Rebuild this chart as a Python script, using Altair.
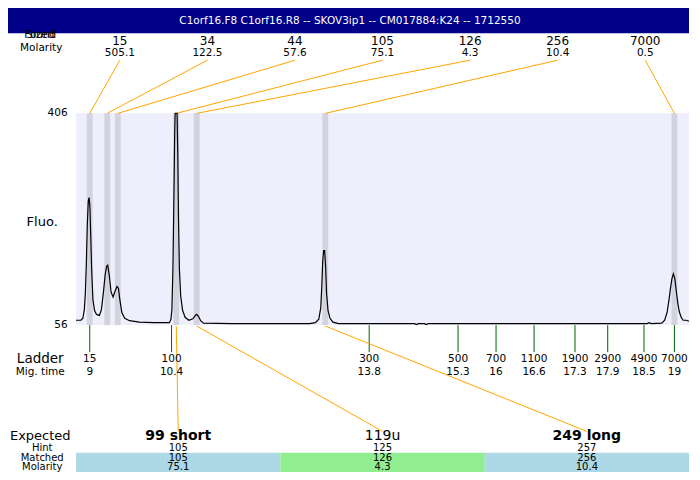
import altair as alt
import pandas as pd

# ---------------- data ----------------
TITLE = "C1orf16.F8  C1orf16.R8 -- SKOV3ip1 -- CM017884:K24 -- 1712550"

trace_time = [8.767, 8.850, 8.883, 8.908, 8.925, 8.942, 8.958, 8.975, 8.988, 9.003,
              9.017, 9.033, 9.055, 9.083, 9.116, 9.166, 9.200, 9.233, 9.266, 9.291,
              9.308, 9.333, 9.366, 9.399, 9.433, 9.466, 9.491, 9.516, 9.549, 9.599,
              9.682, 9.849, 10.098, 10.364, 10.389, 10.406, 10.423, 10.439, 10.453, 10.461,
              10.494, 10.506, 10.519, 10.534, 10.556, 10.589, 10.631, 10.697, 10.764, 10.805,
              10.830, 10.864, 10.897, 10.947, 11.429, 12.261, 12.760, 12.860, 12.918, 12.952,
              12.968, 12.985, 13.001, 13.018, 13.035, 13.051, 13.076, 13.110, 13.160, 13.259,
              14.557, 14.591, 14.624, 14.724, 14.757, 14.790, 15.922, 17.586, 18.535, 18.568,
              18.601, 18.784, 18.834, 18.875, 18.908, 18.933, 18.958, 18.983, 19.008, 19.033,
              19.058, 19.083, 19.116, 19.150, 19.200, 19.250]
trace_fluo = [64.0, 64.0, 67.2, 81.6, 108.7, 156.7, 220.6, 260.5, 266.9, 252.6,
              204.6, 148.7, 97.5, 80.0, 73.6, 72.0, 81.6, 108.7, 140.7, 153.5,
              155.1, 139.1, 110.3, 102.3, 111.9, 119.9, 116.7, 97.5, 76.8, 67.2,
              63.2, 60.8, 60.0, 60.0, 65.6, 81.6, 148.7, 260.5, 372.4, 406.0,
              406.0, 340.4, 228.6, 148.7, 103.9, 80.0, 68.8, 64.0, 66.4, 72.0,
              73.6, 69.6, 63.2, 59.2, 58.4, 58.4, 58.4, 60.0, 65.6, 84.8,
              116.7, 161.5, 179.0, 179.0, 151.9, 108.7, 80.0, 67.2, 60.8, 58.4,
              58.4, 56.8, 58.4, 58.4, 56.8, 58.4, 58.4, 58.4, 58.4, 60.0,
              58.4, 59.2, 64.0, 76.8, 97.5, 116.7, 132.7, 140.7, 132.7, 111.9,
              92.8, 78.4, 68.8, 64.0, 64.0, 62.4]

found_size = ["15", "34", "44", "105", "126", "256", "7000"]
found_molarity = ["505.1", "122.5", "57.6", "75.1", "4.3", "10.4", "0.5"]
found_time = [9.0, 9.30, 9.48, 10.48, 10.83, 13.03, 19.0]

ladder_size = ["15", "100", "300", "500", "700", "1100", "1900", "2900", "4900", "7000"]
ladder_time = [9.0, 10.4, 13.78, 15.3, 15.95, 16.6, 17.3, 17.86, 18.48, 19.0]
ladder_label = ["9", "10.4", "13.8", "15.3", "16", "16.6", "17.3", "17.9", "18.5", "19"]

expected_label = ["99 short", "119u", "249 long"]
expected_bold = [True, False, True]
hint = ["105", "125", "257"]
matched = ["105", "126", "256"]
matched_molarity = ["75.1", "4.3", "10.4"]
matched_time = [10.48, 10.83, 13.03]
matched_status = ["ok", "near", "ok"]

# ---------------- layout ----------------
W, H = 684, 464
SX, SY = W / 700, H / 480
T0, T1 = 8.767, 19.25          # plot area time range
TL = T0 - 70 / 60.1            # left edge of the page
F0, F1 = 56, 406               # fluorescence range of plot area
FPX = (F1 - F0) / 219
F_TOP = F1 + 109 * FPX
F_BOT = F0 - 152 * FPX
FONT = "DejaVu Sans"

XS = alt.Scale(domain=[TL, T1], nice=False, zero=False)
YS = alt.Scale(domain=[F_BOT, F_TOP], nice=False, zero=False)


def X(f):
    return alt.X(f, type="quantitative", scale=XS, axis=None)


def Y(f):
    return alt.Y(f, type="quantitative", scale=YS, axis=None)


def vx(px):
    return alt.value(px * SX)


def vy(py):
    return alt.value(py * SY)


def label(text, x, y, size, align="center", weight="normal", color="black"):
    return alt.Chart(pd.DataFrame({"text": [text]})).mark_text(
        font=FONT, fontSize=size, align=align, baseline="middle",
        fontWeight=weight, color=color
    ).encode(x=vx(x), y=vy(y), text="text:N")


frame = pd.DataFrame({"tl": [TL], "t0": [T0], "t1": [T1], "f0": [F0], "f1": [F1], "title": [TITLE]})
trace = pd.DataFrame({"t": trace_time, "f": trace_fluo})
found = pd.DataFrame({"size": found_size, "mol": found_molarity, "t": found_time,
                      "i": list(range(len(found_size)))})
ladder = pd.DataFrame({"size": ladder_size, "t": ladder_time, "lab": ladder_label})
table = pd.DataFrame({"exp": expected_label, "bold": expected_bold, "hint": hint,
                      "matched": matched, "mol": matched_molarity, "t": matched_time,
                      "status": matched_status, "j": [0, 1, 2]})

base_frame = alt.Chart(frame)
header = base_frame.mark_rect(color="#000088").encode(x=X("tl"), x2="t1", y=vy(0), y2=vy(26))
title = base_frame.mark_text(font=FONT, fontSize=10.5, color="white", baseline="middle").encode(
    x=alt.value(W / 2), y=vy(13), text="title:N")
bg = base_frame.mark_rect(color="#eeeefc").encode(x=X("t0"), x2="t1", y=Y("f1"), y2="f0")

bands = alt.Chart(found).transform_calculate(
    lo="datum.t - 0.05", hi="datum.t + 0.05", f0=str(F0), f1=str(F1)
).mark_rect(color="#d3d3df").encode(x=X("lo"), x2="hi", y=Y("f1"), y2="f0")

line = alt.Chart(trace).mark_line(color="black", strokeWidth=1.2).encode(x=X("t"), y=Y("f"))

ladder_ticks = alt.Chart(ladder).transform_calculate(f0=str(F0)).mark_rule(
    color="#006400", strokeWidth=1).encode(x=X("t"), y=Y("f0"), y2=vy(356))
ladder_text = alt.Chart(ladder).mark_text(font=FONT, fontSize=10.5, baseline="middle").encode(
    x=X("t"), y=vy(363), text="size:N")
ladder_time_text = alt.Chart(ladder).mark_text(font=FONT, fontSize=10.5, baseline="middle").encode(
    x=X("t"), y=vy(377), text="lab:N")

found_base = alt.Chart(found).transform_calculate(
    col_t=f"{T0} + (datum.i + 0.5) * ({T1} - {T0}) / 7")
up_lines = found_base.mark_rule(color="orange", strokeWidth=1).encode(
    x=X("col_t"), x2="t", y=vy(54), y2=vy(109))
found_size_text = found_base.mark_text(font=FONT, fontSize=12, baseline="middle").encode(
    x=X("col_t"), y=vy(34), text="size:N")
found_mol_text = found_base.mark_text(font=FONT, fontSize=10.5, baseline="middle").encode(
    x=X("col_t"), y=vy(46.5), text="mol:N")

table_base = alt.Chart(table).transform_calculate(
    c_t=f"{T0} + (datum.j + 0.5) * ({T1} - {T0}) / 3",
    c0=f"{T0} + datum.j * ({T1} - {T0}) / 3",
    c1=f"{T0} + (datum.j + 1) * ({T1} - {T0}) / 3")
cells = table_base.mark_rect().encode(
    x=X("c0"), x2="c1", y=vy(460), y2=vy(480),
    color=alt.Color("status:N", scale=alt.Scale(domain=["ok", "near"], range=["#add8e6", "#90ee90"]),
                    legend=None))
down_lines = table_base.mark_rule(color="orange", strokeWidth=1).encode(
    x=X("t"), x2="c_t", y=vy(329), y2=vy(438))
exp_bold = table_base.transform_filter("datum.bold").mark_text(
    font=FONT, fontSize=14, fontWeight="bold", baseline="middle").encode(
    x=X("c_t"), y=vy(443), text="exp:N")
exp_norm = table_base.transform_filter("!datum.bold").mark_text(
    font=FONT, fontSize=14, baseline="middle").encode(
    x=X("c_t"), y=vy(443), text="exp:N")
hint_text = table_base.mark_text(font=FONT, fontSize=10, baseline="middle").encode(
    x=X("c_t"), y=vy(455), text="hint:N")
matched_text = table_base.mark_text(font=FONT, fontSize=10, baseline="middle").encode(
    x=X("c_t"), y=vy(465), text="matched:N")
mol_text = table_base.mark_text(font=FONT, fontSize=10, baseline="middle").encode(
    x=X("c_t"), y=vy(474.5), text="mol:N")

fluo_ticks = alt.Chart(pd.DataFrame({"f": [F0, F1]})).mark_text(
    font=FONT, fontSize=10.5, align="right", baseline="middle").encode(
    x=vx(61), y=Y("f"), text="f:Q")

labels = [
    label("Found", 33, 28, 10.5),
    label("Sized", 33, 28, 10.5),
    label("Molarity", 34, 41, 10.5),
    label("Fluo.", 35, 221, 13),
    label("Ladder", 33, 363, 13.5),
    label("Mig. time", 33, 377, 10.5),
    label("Expected", 33, 443, 13),
    label("Hint", 35, 455, 10),
    label("Matched", 35, 465, 10),
    label("Molarity", 35, 474.5, 10),
]

chart = alt.layer(
    header, title, bg, bands, ladder_ticks, up_lines, down_lines, line, cells,
    ladder_text, ladder_time_text, found_size_text, found_mol_text,
    exp_bold, exp_norm, hint_text, matched_text, mol_text, fluo_ticks, *labels
).properties(
    width=W, height=H, padding=0,
    autosize=alt.AutoSizeParams(type="fit", contains="padding")
).configure_view(stroke=None)

chart.save("out.html", embed_options={"renderer": "svg", "actions": False})
